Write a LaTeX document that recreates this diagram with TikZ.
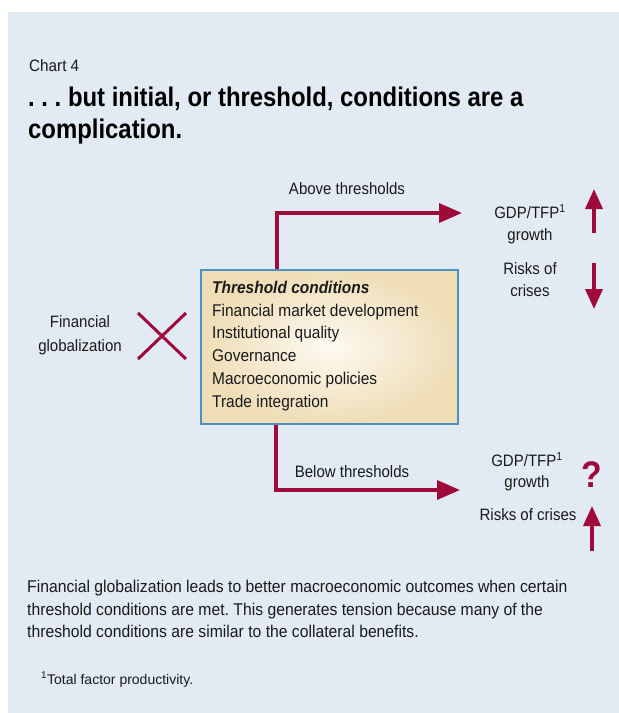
\documentclass[tikz,border=0pt]{standalone}
\usepackage{fontspec}
\setmainfont{Liberation Sans}[FakeStretch=0.91]
\newfontfamily\headfont{Liberation Sans}[FakeStretch=0.885]
\newfontfamily\capfont{Liberation Sans}[FakeStretch=0.925]
\newfontfamily\fnfont{Liberation Sans}[FakeStretch=1.0]
\usetikzlibrary{arrows.meta}
\frenchspacing
\definecolor{panel}{HTML}{E2EAF3}
\definecolor{dred}{HTML}{9E0B3A}
\definecolor{boxblue}{HTML}{4A92C4}
\definecolor{tanout}{HTML}{EFDDB6}
\definecolor{tanin}{HTML}{FDFAF2}
\definecolor{txt}{HTML}{1A1A1A}
\tikzset{
  lbl/.style={inner sep=0pt, text=txt, font=\fontsize{16.5}{22}\selectfont, align=center},
  flow/.style={draw=dred, line width=3.6pt, -{Triangle[length=23pt,width=19pt]}},
  vtick/.style={draw=dred, line width=3.6pt, -{Triangle[length=20pt,width=17pt]}},
  cross/.style={draw=dred, line width=3pt},
  headline/.style={anchor=base west, inner sep=0pt, text=black, font=\headfont\bfseries\fontsize{27}{33}\selectfont},
}
\begin{document}
\begin{tikzpicture}[x=1pt,y=-1pt]
\useasboundingbox (0,0) rectangle (619,713);
\fill[panel] (8,12) rectangle (619,713);

\node[anchor=base west, inner sep=0pt, text=txt, font=\capfont\fontsize{16.5}{18}\selectfont] (chart) at (29,71) {Chart 4};
\node[headline] (head1) at (28,106) {. . . but initial, or threshold, conditions are a};
\node[headline] (head2) at (28,138) {complication.};

% threshold box
\node[draw=boxblue, line width=1.3pt, shading=radial, inner color=tanin, outer color=tanout,
      minimum width=257pt, minimum height=154pt, inner sep=0pt] (tc) at (329.5,347) {};
\node[anchor=north west, inner sep=0pt, align=left, text=txt, font=\fontsize{17}{22.7}\selectfont] (tclist) at (212,281)
  {{\bfseries\itshape Threshold conditions}\\Financial market development\\Institutional quality\\Governance\\Macroeconomic policies\\Trade integration};

% left
\node[lbl, font=\fontsize{16.5}{24}\selectfont] (fg) at (80,335) {Financial\\globalization};
\coordinate (x1) at (138,313);
\coordinate (x2) at (186,359);
\coordinate (x3) at (138,359);
\coordinate (x4) at (186,313);
\draw[cross] (x1) -- (x2);
\draw[cross] (x3) -- (x4);

% upper branch
\coordinate (aT) at (277,213);
\coordinate (aE) at (462,213);
\draw[flow] (tc.north -| aT) |- (aE);
\node[lbl] (above) at (347,189) {Above thresholds};
\node[lbl] (gdp1) at (530,224) {GDP/TFP\textsuperscript{1}\\growth};
\node[lbl] (risk1) at (530,280) {Risks of\\crises};
\coordinate (u1b) at (594,233);
\coordinate (u1t) at (594,189);
\draw[vtick] (u1b) -- (u1t);
\coordinate (d1t) at (594,263);
\coordinate (d1b) at (594,309);
\draw[vtick] (d1t) -- (d1b);

% lower branch
\coordinate (bT) at (276,490);
\coordinate (bE) at (460,490);
\draw[flow] (tc.south -| bT) |- (bE);
\node[lbl] (below) at (352,472) {Below thresholds};
\node[lbl, font=\fontsize{16.5}{21}\selectfont] (gdp2) at (527,472) {GDP/TFP\textsuperscript{1}\\growth};
\node[lbl] (risk2) at (528,515) {Risks of crises};
\node[inner sep=0pt, text=dred, font=\bfseries\fontsize{37}{37}\selectfont] (q) at (592,475) {?};
\coordinate (u2b) at (592,551);
\coordinate (u2t) at (592,506);
\draw[vtick] (u2b) -- (u2t);

% caption
\node[anchor=north west, inner sep=0pt, align=left, text=txt, font=\capfont\fontsize{17}{22.5}\selectfont] (cap) at (27,580)
  {Financial globalization leads to better macroeconomic outcomes when certain\\threshold conditions are met. This generates tension because many of the\\threshold conditions are similar to the collateral benefits.};
\node[anchor=base west, inner sep=0pt, text=txt, font=\fnfont\fontsize{14}{16}\selectfont] (fn) at (41,684)
  {\textsuperscript{1}Total factor productivity.};
\end{tikzpicture}
\end{document}
